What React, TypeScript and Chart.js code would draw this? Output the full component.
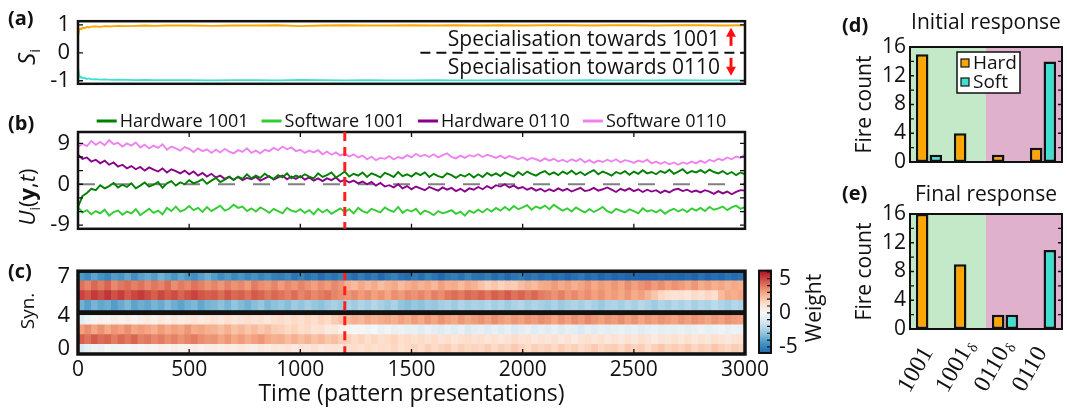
import { useEffect, useRef } from 'react';
import { Chart, registerables } from 'chart.js';

Chart.register(...registerables);

const SANS = '"Open Sans", "Noto Sans", sans-serif';
const SERIF = '"Liberation Serif", "DejaVu Serif", serif';

const HARD_COLOR = '#ffa500';
const SOFT_COLOR = '#40e0d0';

// ---------- shared time axis ----------
const timeTicks = [0, 500, 1000, 1500, 2000, 2500, 3000];
const timeMax = 3000;
const switchTime = 1200;

// ---------- (a) specialisation index ----------
const specTimes = [
  0, 5, 10, 15, 20, 30, 40, 50, 60, 80,
  100, 120, 150, 180, 220, 260, 300, 350, 400, 500,
  600, 700, 800, 900, 1000, 1100, 1200, 1300, 1400, 1500,
  1600, 1700, 1800, 1900, 2000, 2100, 2200, 2300, 2400, 2500,
  2600, 2700, 2800, 2900, 3000,
];
const specHard = [
  0.58, 0.8, 0.87, 0.85, 0.9, 0.89, 0.93, 0.91, 0.94, 0.95,
  0.93, 0.96, 0.95, 0.97, 0.96, 0.97, 0.98, 0.97, 0.98, 0.98,
  0.97, 0.98, 0.98, 0.99, 0.96, 0.98, 0.99, 0.98, 0.98, 0.99,
  0.98, 0.99, 0.98, 0.99, 0.98, 0.99, 0.99, 0.98, 0.99, 0.99,
  0.98, 0.99, 0.99, 0.98, 0.99,
];
const specSoft = [
  -0.52, -0.78, -0.88, -0.86, -0.91, -0.9, -0.94, -0.92, -0.95, -0.94,
  -0.96, -0.95, -0.97, -0.96, -0.97, -0.98, -0.97, -0.98, -0.98, -0.98,
  -0.99, -0.98, -0.98, -0.99, -0.97, -0.98, -0.99, -0.98, -0.99, -0.99,
  -0.98, -0.99, -0.99, -0.98, -0.99, -0.99, -0.99, -0.98, -0.99, -0.99,
  -0.99, -0.98, -0.99, -0.99, -0.99,
];
const specTicks = [-1, 0, 1];
const specDividerFrom = 1540;

// ---------- (b) potentials U_i(y,t), sampled every 20 presentations ----------
const uStep = 20;
const hardware1001 = [
  -5.0, -2.6, -1.9, -1.0, -1.3, -0.2, -0.9, -0.4, 0.3, -0.7,
  -0.1, -0.6, 0.2, -0.9, -0.3, 0.4, -0.5, -0.1, 0.5, -0.8,
  0.2, 0.7, -0.3, 0.4, 0.0, 0.9, 0.2, 0.6, 1.1, 0.1,
  0.8, 1.4, 0.5, 1.0, 1.6, 0.9, 1.7, 1.2, 2.2, 1.3,
  1.9, 1.4, 2.3, 1.6, 1.2, 2.0, 1.5, 2.4, 1.3, 1.9,
  1.5, 2.2, 1.7, 1.3, 2.4, 1.6, 2.0, 2.6, 1.5, 2.1,
  2.8, 1.7, 2.3, 1.9, 2.6, 1.6, 2.4, 2.0, 1.5, 2.5,
  2.1, 1.6, 2.7, 1.8, 2.2, 1.7, 2.5, 2.0, 2.6, 1.6,
  2.3, 1.8, 1.5, 2.4, 2.0, 1.4, 2.1, 1.7, 2.3, 1.5,
  2.2, 1.6, 2.5, 1.9, 2.4, 1.8, 2.6, 2.1, 1.7, 2.7,
  2.0, 2.8, 2.3, 1.9, 2.5, 2.9, 2.1, 2.6, 2.0, 2.8,
  2.3, 3.0, 2.2, 2.7, 2.0, 2.6, 3.1, 2.2, 2.8, 2.4,
  1.9, 2.7, 2.3, 2.9, 2.1, 2.8, 2.3, 3.1, 2.4, 2.7,
  2.2, 2.9, 2.5, 3.2, 2.3, 2.8, 3.3, 2.4, 2.9, 2.6,
  3.1, 2.5, 3.2, 2.7, 2.4, 2.9, 2.2, 2.7, 2.0, 2.6,
  2.2,
];
const software1001 = [
  -5.0, -6.2, -5.7, -6.6, -5.9, -6.4, -5.6, -6.9, -6.1, -5.8,
  -6.7, -6.0, -6.4, -5.5, -6.8, -6.1, -5.4, -6.3, -5.8, -6.6,
  -5.2, -5.9, -4.9, -6.0, -5.6, -4.8, -5.7, -5.2, -6.1, -5.0,
  -5.9, -5.3, -4.7, -5.8, -5.4, -4.5, -5.2, -4.9, -5.9, -5.3,
  -6.0, -5.1, -5.6, -6.3, -5.4, -5.9, -6.4, -5.2, -5.8, -6.1,
  -5.5, -6.3, -5.7, -6.6, -5.4, -6.2, -5.6, -6.5, -5.9, -5.3,
  -6.1, -5.5, -6.4, -5.2, -5.9, -6.3, -5.4, -5.8, -6.2, -5.1,
  -5.7, -6.1, -5.0, -6.3, -5.6, -6.0, -5.4, -6.6, -5.8, -6.2,
  -6.8, -5.9, -6.4, -6.1, -5.7, -6.5, -6.0, -6.9, -5.8, -6.3,
  -5.6, -6.2, -5.4, -6.0, -5.2, -5.8, -5.0, -5.7, -4.8, -5.5,
  -5.1, -4.6, -5.6, -4.9, -5.3, -4.7, -5.5, -4.5, -5.2, -5.8,
  -5.3, -6.0, -5.1, -5.7, -6.2, -5.5, -6.1, -5.6, -5.0, -5.9,
  -6.3, -5.4, -5.8, -6.2, -5.5, -5.9, -6.4, -5.3, -6.0, -5.7,
  -6.2, -5.6, -6.5, -5.8, -5.4, -6.0, -5.5, -6.1, -5.3, -5.8,
  -5.2, -5.9, -5.0, -5.6, -5.3, -4.9, -5.7, -5.1, -4.7, -5.4,
  -5.0,
];
const hardware0110 = [
  6.5, 5.6, 5.9, 5.0, 5.4, 4.6, 5.2, 4.3, 4.8, 3.9,
  4.3, 3.5, 4.0, 3.3, 3.8, 3.0, 3.7, 3.2, 2.8, 3.5,
  2.6, 3.3, 2.9, 2.4, 3.0, 2.2, 2.8, 1.9, 2.5, 1.7,
  2.3, 1.5, 1.9, 1.2, 1.7, 1.0, 1.6, 0.9, 1.4, 1.1,
  1.6, 0.8, 1.3, 1.8, 1.0, 1.5, 1.9, 1.1, 1.7, 1.2,
  1.8, 1.0, 1.5, 0.8, 1.3, 0.7, 1.3, 0.9, 1.5, 0.6,
  1.0, 0.4, 0.8, 0.2, 0.6, 0.0, 0.5, -0.3, 0.3, -0.5,
  -0.2, -0.7, 0.0, -0.9, -0.4, -1.1, -0.5, -0.9, -1.3, -0.6,
  -1.0, -1.4, -0.7, -1.2, -0.8, -1.5, -1.0, -1.6, -0.9, -1.2,
  -0.6, -1.1, -0.4, -0.9, -0.2, -0.5, 0.0, -0.7, -0.3, -0.9,
  -0.6, -1.2, -0.8, -1.4, -1.0, -1.6, -1.1, -1.5, -0.9, -1.4,
  -1.0, -1.6, -1.2, -0.8, -1.5, -1.3, -0.8, -1.4, -1.1, -0.7,
  -1.2, -1.7, -1.0, -1.4, -0.9, -1.5, -1.1, -1.7, -1.2, -1.6,
  -1.3, -1.9, -1.4, -1.8, -1.2, -1.0, -1.5, -1.2, -1.7, -1.4,
  -1.8, -1.3, -1.6, -2.1, -1.5, -2.0, -1.6, -2.2, -1.7, -1.3,
  -1.4,
];
const software0110 = [
  8.2, 8.9, 8.4, 9.5, 8.7, 9.3, 8.6, 9.7, 8.8, 9.1,
  8.3, 9.0, 8.5, 9.2, 8.1, 8.7, 7.9, 8.5, 8.0, 8.8,
  7.6, 8.3, 7.9, 7.4, 8.2, 7.8, 7.1, 7.9, 7.3, 7.7,
  6.9, 7.6, 7.0, 7.8, 7.2, 6.8, 7.5, 7.1, 7.9, 6.9,
  7.4, 6.8, 7.6, 7.3, 8.0, 7.5, 8.3, 7.7, 8.1, 7.3,
  7.6, 6.9, 7.4, 7.0, 7.5, 6.6, 7.2, 6.5, 7.0, 6.3,
  6.8, 6.1, 6.6, 5.9, 6.3, 5.5, 6.1, 5.3, 5.8, 5.6,
  6.2, 5.5, 6.0, 5.7, 6.4, 5.9, 6.7, 6.1, 6.5, 6.0,
  6.6, 5.9, 6.4, 6.8, 6.0, 5.7, 6.3, 5.8, 6.4, 6.1,
  6.6, 6.0, 6.5, 6.2, 5.8, 6.3, 5.7, 6.2, 5.9, 5.5,
  5.9, 5.3, 5.8, 5.5, 5.1, 5.7, 5.2, 5.6, 5.0, 5.4,
  4.9, 5.5, 5.1, 5.6, 4.8, 5.3, 4.7, 5.2, 4.9, 5.4,
  5.0, 5.5, 4.8, 5.3, 5.1, 4.7, 5.2, 4.9, 5.4, 4.6,
  5.0, 4.5, 4.9, 4.4, 4.8, 4.3, 4.8, 4.5, 5.0, 4.6,
  5.2, 4.7, 5.4, 5.0, 5.6, 5.3, 5.9, 5.5, 6.1, 5.8,
  6.6,
];
const uTicks = [-9, 0, 9];
const uMinorTicks = [-9, -6, -3, 0, 3, 6, 9];

// ---------- (c) synaptic weights, one value per 30 presentations ----------
const weightBin = 30;
const weightSyn0 = [
  -1.2, -0.7, -0.3, -0.5, 0.0, -0.2, 0.1, -0.1, 0.2, 0.0,
  0.3, 0.1, 0.4, 0.2, 0.5, 0.2, 0.4, 0.6, 0.3, 0.5,
  0.6, 0.4, 0.7, 0.5, 0.8, 0.6, 0.5, 0.8, 0.6, 0.9,
  0.8, 1.0, 0.7, 1.1, 0.9, 1.2, 0.8, 1.0, 1.1, 0.9,
  1.2, 1.4, 1.1, 1.5, 1.2, 1.4, 1.3, 1.6, 1.2, 1.5,
  1.7, 1.4, 1.8, 1.5, 1.7, 1.9, 1.5, 1.8, 1.6, 1.7,
  1.6, 1.9, 1.5, 1.8, 1.6, 2.0, 1.7, 1.5, 1.8, 1.6,
  1.8, 1.5, 1.9, 1.6, 1.8, 1.4, 1.7, 2.0, 1.6, 1.8,
  1.9, 1.6, 2.0, 1.7, 1.9, 1.5, 1.8, 2.1, 1.7, 1.9,
  1.7, 2.0, 1.6, 1.9, 1.7, 2.1, 1.8, 1.6, 1.9, 1.7,
];
const weightSyn1 = [
  4.5, 4.1, 4.6, 4.2, 4.4, 3.9, 4.3, 4.0, 4.4, 3.8,
  4.0, 3.6, 3.9, 3.5, 3.8, 3.4, 3.7, 3.9, 3.5, 3.3,
  3.4, 3.0, 3.3, 2.9, 3.2, 2.8, 3.1, 3.3, 2.9, 2.7,
  2.8, 2.4, 2.7, 2.3, 2.6, 2.2, 2.5, 2.1, 2.3, 1.9,
  1.8, 1.5, 1.7, 1.3, 1.6, 1.2, 1.5, 1.7, 1.3, 1.5,
  1.2, 1.5, 1.1, 1.4, 1.0, 1.3, 0.9, 1.2, 1.4, 1.1,
  1.3, 0.9, 1.2, 0.8, 1.1, 1.4, 1.0, 1.2, 0.8, 1.1,
  0.9, 1.2, 0.8, 1.1, 0.7, 1.0, 1.3, 0.9, 1.2, 0.8,
  1.1, 0.8, 1.2, 0.9, 1.3, 1.0, 0.7, 1.1, 0.9, 1.2,
  0.9, 1.2, 0.8, 1.1, 0.9, 1.3, 1.0, 0.8, 1.1, 1.2,
];
const weightSyn2 = [
  3.1, 3.5, 3.0, 3.4, 2.9, 3.3, 3.1, 3.5, 3.0, 3.2,
  3.0, 2.7, 3.2, 2.8, 3.1, 2.9, 3.3, 2.8, 3.0, 2.7,
  2.6, 2.3, 2.7, 2.2, 2.5, 2.1, 2.4, 2.0, 2.3, 1.9,
  1.8, 1.5, 1.7, 1.3, 1.5, 1.0, 1.2, 0.7, 0.9, 0.4,
  0.2, -0.1, 0.1, -0.3, -0.1, -0.5, -0.2, -0.6, -0.4, -0.7,
  -0.6, -0.9, -0.5, -0.8, -1.0, -0.7, -0.9, -0.6, -1.1, -0.8,
  -0.7, -1.0, -0.6, -0.9, -0.7, -1.1, -0.8, -0.5, -0.9, -0.7,
  -0.9, -0.6, -1.0, -0.7, -0.8, -1.1, -0.7, -0.9, -0.6, -0.8,
  -0.7, -0.5, -0.8, -0.6, -0.9, -0.7, -0.5, -0.8, -0.6, -0.7,
  -0.5, -0.8, -0.6, -0.4, -0.7, -0.5, -0.3, -0.6, -0.4, -0.5,
];
const weightSyn3 = [
  -0.9, -0.4, 0.1, 0.4, 0.2, 0.5, 0.3, 0.6, 0.2, 0.5,
  0.7, 0.4, 0.8, 0.5, 0.9, 0.6, 0.8, 1.0, 0.7, 0.9,
  1.1, 0.8, 1.2, 0.9, 1.1, 1.3, 1.0, 1.2, 0.9, 1.3,
  1.4, 1.1, 1.5, 1.2, 1.6, 1.3, 1.7, 1.5, 1.9, 2.2,
  2.4, 2.7, 2.5, 2.9, 2.6, 2.8, 3.0, 2.7, 3.1, 2.8,
  3.2, 2.9, 3.3, 3.0, 3.4, 3.1, 2.9, 3.3, 3.0, 3.2,
  3.4, 3.1, 3.5, 3.2, 3.0, 3.3, 3.1, 3.4, 3.2, 3.5,
  3.3, 3.0, 3.4, 3.1, 3.5, 3.2, 3.6, 3.3, 3.1, 3.4,
  3.2, 3.5, 3.1, 3.4, 3.0, 3.3, 3.1, 3.4, 3.2, 3.0,
  3.3, 3.1, 3.4, 3.2, 3.0, 3.3, 3.1, 3.4, 3.2, 3.1,
];
const weightSyn4 = [
  -3.6, -4.1, -3.5, -3.9, -3.7, -4.2, -3.8, -3.4, -4.0, -3.7,
  -3.9, -3.5, -3.8, -3.3, -3.7, -4.0, -3.6, -3.4, -3.9, -3.5,
  -3.4, -3.1, -3.5, -3.0, -3.3, -3.6, -3.2, -2.9, -3.4, -3.1,
  -2.9, -3.2, -2.7, -3.0, -2.6, -2.9, -3.1, -2.7, -2.5, -2.8,
  -2.4, -2.7, -2.3, -2.6, -2.2, -2.5, -2.8, -2.4, -3.0, -3.2,
  -2.9, -3.1, -2.7, -2.9, -2.6, -2.4, -2.7, -2.3, -2.6, -2.4,
  -2.5, -2.2, -2.6, -2.3, -2.7, -2.4, -2.2, -2.6, -2.3, -2.5,
  -2.7, -2.4, -2.8, -2.5, -2.3, -2.6, -2.2, -2.5, -2.8, -2.4,
  -2.3, -2.6, -2.2, -2.5, -2.1, -2.4, -2.7, -2.3, -2.5, -2.2,
  -2.4, -2.1, -2.5, -2.2, -2.4, -2.0, -2.3, -2.6, -2.2, -2.4,
];
const weightSyn5 = [
  5.1, 4.7, 5.3, 4.9, 5.4, 4.8, 5.2, 4.6, 5.0, 5.3,
  4.9, 4.5, 5.0, 4.6, 4.9, 4.4, 4.8, 5.1, 4.7, 4.5,
  4.6, 4.2, 4.7, 4.3, 4.5, 4.1, 4.6, 4.4, 4.0, 4.3,
  4.1, 3.8, 4.2, 3.7, 4.0, 3.6, 3.9, 4.1, 3.7, 3.5,
  3.3, 3.6, 3.2, 3.5, 3.1, 3.4, 3.0, 3.5, 3.2, 3.6,
  3.4, 3.7, 3.3, 3.8, 3.5, 4.0, 4.2, 3.9, 4.3, 4.1,
  4.4, 4.0, 4.5, 4.2, 4.6, 4.1, 4.4, 4.0, 4.3, 3.9,
  3.7, 3.4, 3.8, 3.3, 3.6, 3.2, 3.5, 3.1, 3.4, 3.0,
  3.2, 2.9, 3.3, 2.8, 3.1, 2.6, 2.1, 1.6, 1.3, 1.0,
  1.2, 0.9, 1.4, 1.1, 1.6, 1.3, 2.4, 2.9, 2.7, 3.0,
];
const weightSyn6 = [
  4.1, 3.7, 4.3, 3.9, 4.4, 3.6, 4.0, 4.2, 3.8, 4.1,
  3.6, 4.0, 3.7, 4.2, 3.5, 3.9, 3.6, 4.1, 3.8, 3.4,
  3.7, 3.3, 3.8, 3.4, 3.6, 3.2, 3.9, 3.5, 3.3, 3.7,
  3.2, 3.6, 3.3, 3.7, 3.4, 3.1, 3.5, 3.2, 3.6, 3.3,
  2.7, 2.4, 2.9, 2.5, 2.8, 2.3, 2.6, 2.9, 2.4, 2.7,
  3.0, 2.6, 2.9, 2.5, 3.1, 2.7, 2.8, 2.4, 2.9, 2.6,
  2.2, 1.8, 2.1, 1.7, 2.0, 1.9, 2.3, 2.6, 2.4, 2.8,
  2.9, 3.2, 2.8, 3.1, 2.7, 3.0, 3.3, 2.9, 3.2, 3.0,
  3.3, 3.0, 3.5, 3.1, 3.4, 3.6, 3.2, 3.5, 3.1, 3.4,
  3.2, 2.9, 3.3, 2.8, 3.1, 2.7, 3.0, 2.6, 2.9, 2.7,
];
const weightSyn7 = [
  -4.3, -4.7, -4.0, -4.5, -4.9, -4.2, -4.4, -3.9, -4.6, -4.1,
  -3.8, -4.2, -3.6, -4.0, -4.4, -3.9, -4.3, -4.6, -4.1, -3.7,
  -4.2, -4.7, -4.3, -4.8, -4.4, -4.9, -4.5, -5.0, -4.6, -5.1,
  -5.2, -4.8, -5.5, -5.0, -5.6, -5.2, -5.8, -5.3, -5.5, -5.1,
  -5.4, -5.8, -5.2, -5.7, -5.3, -5.9, -5.4, -5.1, -5.6, -5.8,
  -5.3, -5.7, -5.1, -5.5, -5.9, -5.4, -5.2, -5.6, -5.0, -5.5,
  -5.6, -5.2, -5.8, -5.4, -5.9, -5.5, -5.3, -5.7, -5.4, -5.8,
  -5.5, -5.9, -5.6, -6.1, -5.7, -5.4, -5.9, -5.6, -6.0, -5.7,
  -6.1, -5.8, -6.3, -5.9, -6.2, -6.0, -6.4, -5.8, -6.1, -5.9,
  -6.2, -5.8, -6.0, -5.6, -6.1, -5.7, -5.9, -5.5, -5.8, -5.6,
];
const synTickValues = [0.5, 3.95, 7.9];
const synTickLabels = ['0', '4', '7'];
const weightTicks = [-5, 0, 5];
const weightMinorTicks = [-5, -4, -3, -2, -1, 0, 1, 2, 3, 4, 5, 6];
const weightRange = [-6, 6];
const rdBu = ['#2166ac', '#4393c3', '#92c5de', '#d1e5f0', '#f7f7f7', '#fddbc7', '#f4a582', '#d6604d', '#b2182b'];

// ---------- (d), (e) fire counts ----------
const patternNames = ['1001', '1001', '0110', '0110'];
const patternSubs = ['', 'δ', 'δ', ''];
const initialHard = [15, 4, 1, 2];
const initialSoft = [1, 0, 0, 14];
const finalHard = [16, 9, 2, 0];
const finalSoft = [0, 0, 2, 11];
const countTicks = [0, 4, 8, 12, 16];
const countMinorTicks = [2, 4, 6, 8, 10, 12, 14];

// ---------- helpers ----------
function hexRgb(h: string) {
  return [parseInt(h.slice(1, 3), 16), parseInt(h.slice(3, 5), 16), parseInt(h.slice(5, 7), 16)];
}
function weightColor(w: number) {
  const t = Math.min(1, Math.max(0, (w - weightRange[0]) / (weightRange[1] - weightRange[0])));
  const f = t * (rdBu.length - 1);
  const i = Math.min(rdBu.length - 2, Math.floor(f));
  const k = f - i;
  const a = hexRgb(rdBu[i]);
  const b = hexRgb(rdBu[i + 1]);
  const c = a.map((v, j) => Math.round(v + (b[j] - v) * k));
  return `rgb(${c[0]},${c[1]},${c[2]})`;
}

type Seg = { text: string; font: string; dy?: number };
function drawRotatedRich(ctx: CanvasRenderingContext2D, cx: number, cy: number, segs: Seg[]) {
  ctx.save();
  ctx.translate(cx, cy);
  ctx.rotate(-Math.PI / 2);
  ctx.fillStyle = '#111';
  ctx.textBaseline = 'alphabetic';
  ctx.textAlign = 'left';
  let total = 0;
  for (const s of segs) {
    ctx.font = s.font;
    total += ctx.measureText(s.text).width;
  }
  let x = -total / 2;
  for (const s of segs) {
    ctx.font = s.font;
    ctx.fillText(s.text, x, 8 + (s.dy || 0));
    x += ctx.measureText(s.text).width;
  }
  ctx.restore();
}

function baseOptions(padding: any) {
  return {
    responsive: false,
    maintainAspectRatio: false,
    animation: false,
    devicePixelRatio: 1,
    events: [],
    layout: { padding },
    plugins: { legend: { display: false }, tooltip: { enabled: false }, title: { display: false } },
  };
}

function valueAxis(min: number, max: number, ticks: number[], width: number, size: number, extra: any = {}) {
  return {
    type: 'linear',
    min,
    max,
    afterFit: (s: any) => {
      s.width = width;
    },
    afterBuildTicks: (s: any) => {
      s.ticks = ticks.map((v) => ({ value: v }));
    },
    ticks: {
      font: { family: SANS, size },
      color: '#111',
      padding: 8,
      autoSkip: false,
      maxRotation: 0,
      callback: (v: number) => String(v),
    },
    grid: { display: false, drawTicks: false },
    border: { display: false },
    ...extra,
  };
}

function framePlugin(id: string, o: { width: number; xTicks?: number[]; yTicks?: number[]; len?: number }) {
  return {
    id,
    afterDatasetsDraw(chart: any) {
      const { ctx, chartArea: a, scales } = chart;
      const L = o.len ?? 5;
      ctx.save();
      ctx.strokeStyle = '#111';
      ctx.lineWidth = 1.3;
      ctx.beginPath();
      (o.xTicks || []).forEach((v) => {
        const x = scales.x.getPixelForValue(v);
        ctx.moveTo(x, a.top);
        ctx.lineTo(x, a.top + L);
        ctx.moveTo(x, a.bottom);
        ctx.lineTo(x, a.bottom - L);
      });
      (o.yTicks || []).forEach((v) => {
        const y = scales.y.getPixelForValue(v);
        ctx.moveTo(a.left, y);
        ctx.lineTo(a.left + L, y);
        ctx.moveTo(a.right, y);
        ctx.lineTo(a.right - L, y);
      });
      ctx.stroke();
      ctx.lineWidth = o.width;
      ctx.strokeRect(a.left, a.top, a.right - a.left, a.bottom - a.top);
      ctx.restore();
    },
  };
}

function switchLinePlugin(id: string) {
  return {
    id,
    afterDatasetsDraw(chart: any) {
      const { ctx, chartArea: a, scales } = chart;
      const x = scales.x.getPixelForValue(switchTime);
      ctx.save();
      ctx.strokeStyle = '#ff1f1f';
      ctx.lineWidth = 3;
      ctx.setLineDash([9, 6]);
      ctx.beginPath();
      ctx.moveTo(x, a.top);
      ctx.lineTo(x, a.bottom);
      ctx.stroke();
      ctx.restore();
    },
  };
}

function rotatedLabelPlugin(id: string, cx: number, cy: number, segs: Seg[]) {
  return {
    id,
    afterDraw(chart: any) {
      drawRotatedRich(chart.ctx, cx, cy, segs);
    },
  };
}

function drawArrow(ctx: CanvasRenderingContext2D, x: number, y0: number, y1: number, color: string) {
  const dir = y1 < y0 ? -1 : 1;
  const head = 9;
  ctx.save();
  ctx.strokeStyle = color;
  ctx.fillStyle = color;
  ctx.lineWidth = 3;
  ctx.beginPath();
  ctx.moveTo(x, y0);
  ctx.lineTo(x, y1 - dir * head * 0.8);
  ctx.stroke();
  ctx.beginPath();
  ctx.moveTo(x, y1);
  ctx.lineTo(x - 5, y1 - dir * head);
  ctx.lineTo(x + 5, y1 - dir * head);
  ctx.closePath();
  ctx.fill();
  ctx.restore();
}

// ---------- chart builders ----------
function buildSpec() {
  const note = {
    id: 'specNote',
    afterDatasetsDraw(chart: any) {
      const { ctx, chartArea: a, scales } = chart;
      const y0 = scales.y.getPixelForValue(0);
      ctx.save();
      ctx.strokeStyle = '#111';
      ctx.lineWidth = 2;
      ctx.setLineDash([10, 6]);
      ctx.beginPath();
      ctx.moveTo(scales.x.getPixelForValue(specDividerFrom), y0);
      ctx.lineTo(a.right, y0);
      ctx.stroke();
      ctx.setLineDash([]);
      ctx.font = `21px ${SANS}`;
      ctx.fillStyle = '#111';
      ctx.textAlign = 'right';
      ctx.textBaseline = 'alphabetic';
      ctx.fillText('Specialisation towards 1001', a.right - 25, y0 - 7);
      ctx.fillText('Specialisation towards 0110', a.right - 25, y0 + 21);
      drawArrow(ctx, a.right - 14, y0 - 7, y0 - 25, '#ff1010');
      drawArrow(ctx, a.right - 14, y0 + 5, y0 + 23, '#ff1010');
      ctx.restore();
    },
  };
  return {
    type: 'line',
    data: {
      datasets: [
        { label: 'Hard', data: specTimes.map((t, i) => ({ x: t, y: specHard[i] })), borderColor: HARD_COLOR, borderWidth: 1.8, pointRadius: 0 },
        { label: 'Soft', data: specTimes.map((t, i) => ({ x: t, y: specSoft[i] })), borderColor: SOFT_COLOR, borderWidth: 1.8, pointRadius: 0 },
      ],
    },
    options: {
      ...baseOptions({ left: 0, top: 14, right: 78, bottom: 8 }),
      scales: {
        x: { type: 'linear', min: 0, max: timeMax, display: false },
        y: valueAxis(-1.11, 1.135, specTicks, 78, 22),
      },
    },
    plugins: [
      framePlugin('specFrame', { width: 2.5, yTicks: specTicks }),
      note,
      rotatedLabelPlugin('specLabel', 27, 57, [
        { text: 'S', font: `italic 24px ${SANS}` },
        { text: 'i', font: `15px ${SANS}`, dy: 5 },
      ]),
    ],
  };
}

function buildPotentials() {
  const uTimes = hardware1001.map((_, i) => i * uStep);
  const series = [
    { label: 'Hardware 1001', values: hardware1001, color: '#008000' },
    { label: 'Software 1001', values: software1001, color: '#32cd32' },
    { label: 'Hardware 0110', values: hardware0110, color: '#8b008b' },
    { label: 'Software 0110', values: software0110, color: '#ee82ee' },
  ];
  const zeroLine = {
    id: 'zeroLine',
    beforeDatasetsDraw(chart: any) {
      const { ctx, chartArea: a, scales } = chart;
      const y = scales.y.getPixelForValue(0);
      ctx.save();
      ctx.strokeStyle = '#808080';
      ctx.lineWidth = 2;
      ctx.setLineDash([17, 18]);
      ctx.beginPath();
      ctx.moveTo(a.left, y);
      ctx.lineTo(a.right, y);
      ctx.stroke();
      ctx.restore();
    },
  };
  const legend = {
    id: 'lineLegend',
    afterDraw(chart: any) {
      const { ctx, chartArea: a } = chart;
      ctx.save();
      ctx.font = `18px ${SANS}`;
      const sw = 20;
      const gap = 3;
      const itemGap = 13;
      const items = chart.data.datasets.map((d: any) => ({
        label: d.label,
        color: d.borderColor,
        w: sw + gap + ctx.measureText(d.label).width,
      }));
      const total = items.reduce((s: number, it: any) => s + it.w, 0) + itemGap * (items.length - 1);
      let x = (a.left + a.right) / 2 - total / 2;
      const y = a.top - 11;
      for (const it of items) {
        ctx.strokeStyle = it.color;
        ctx.lineWidth = 3;
        ctx.beginPath();
        ctx.moveTo(x, y);
        ctx.lineTo(x + sw, y);
        ctx.stroke();
        ctx.fillStyle = '#111';
        ctx.textBaseline = 'middle';
        ctx.textAlign = 'left';
        ctx.fillText(it.label, x + sw + gap, y + 1);
        x += it.w + itemGap;
      }
      ctx.restore();
    },
  };
  return {
    type: 'line',
    data: {
      datasets: series.map((s) => ({
        label: s.label,
        data: uTimes.map((t, i) => ({ x: t, y: s.values[i] })),
        borderColor: s.color,
        borderWidth: 1.9,
        pointRadius: 0,
      })),
    },
    options: {
      ...baseOptions({ left: 0, top: 32, right: 78, bottom: 8 }),
      scales: {
        x: { type: 'linear', min: 0, max: timeMax, display: false },
        y: valueAxis(-9.8, 11.5, uTicks, 78, 22),
      },
    },
    plugins: [
      zeroLine,
      framePlugin('uFrame', { width: 2.5, xTicks: timeTicks, yTicks: uMinorTicks }),
      switchLinePlugin('uSwitch'),
      legend,
      rotatedLabelPlugin('uLabel', 27, 97, [
        { text: 'U', font: `italic 22px ${SANS}` },
        { text: 'i', font: `14px ${SANS}`, dy: 5 },
        { text: '(', font: `22px ${SANS}` },
        { text: 'y', font: `bold 22px ${SANS}` },
        { text: ',', font: `22px ${SANS}` },
        { text: 't', font: `italic 22px ${SANS}` },
        { text: ')', font: `22px ${SANS}` },
      ]),
    ],
  };
}

function buildWeights() {
  const rows = [weightSyn0, weightSyn1, weightSyn2, weightSyn3, weightSyn4, weightSyn5, weightSyn6, weightSyn7];
  const separator = {
    id: 'blockSeparator',
    afterDatasetsDraw(chart: any) {
      const { ctx, chartArea: a, scales } = chart;
      const y1 = scales.y.getPixelForValue(4.5);
      const y0 = scales.y.getPixelForValue(4);
      ctx.save();
      ctx.fillStyle = '#111';
      ctx.fillRect(a.left, y1, a.right - a.left, y0 - y1);
      ctx.restore();
    },
  };
  return {
    type: 'bar',
    data: {
      datasets: rows.map((row, r) => {
        const lo = r < 4 ? r : r + 0.5;
        return {
          label: `Syn ${r}`,
          data: row.map((_, j) => ({ x: j * weightBin + weightBin / 2, y: [lo, lo + 1] })),
          backgroundColor: row.map((w) => weightColor(w)),
          borderWidth: 0,
          barPercentage: 1,
          categoryPercentage: 1,
          grouped: false,
        };
      }),
    },
    options: {
      ...baseOptions({ left: 0, top: 13, right: 78, bottom: 0 }),
      scales: {
        x: {
          type: 'linear',
          min: 0,
          max: timeMax,
          offset: false,
          afterFit: (s: any) => {
            s.height = 56;
          },
          afterBuildTicks: (s: any) => {
            s.ticks = timeTicks.map((v) => ({ value: v }));
          },
          ticks: { font: { family: SANS, size: 21 }, color: '#111', padding: 3, maxRotation: 0, autoSkip: false, callback: (v: number) => String(v) },
          grid: { display: false, drawTicks: false },
          border: { display: false },
          title: { display: true, text: 'Time (pattern presentations)', font: { family: SANS, size: 23 }, color: '#111', padding: { top: 0, bottom: 2 } },
        },
        y: valueAxis(0, 8.5, synTickValues, 78, 22, {
          beginAtZero: false,
          ticks: {
            font: { family: SANS, size: 22 },
            color: '#111',
            padding: 8,
            autoSkip: false,
            maxRotation: 0,
            callback: (_v: number, i: number) => synTickLabels[i],
          },
        }),
      },
    },
    plugins: [
      separator,
      switchLinePlugin('wSwitch'),
      framePlugin('wFrame', { width: 3.5, xTicks: timeTicks }),
      rotatedLabelPlugin('wLabel', 26, 61, [{ text: 'Syn.', font: `19px ${SANS}` }]),
    ],
  };
}

function buildColorbar() {
  const bar = {
    id: 'colorbarFill',
    beforeDatasetsDraw(chart: any) {
      const { ctx, chartArea: a, scales } = chart;
      ctx.save();
      for (let py = Math.floor(a.top); py < a.bottom; py++) {
        ctx.fillStyle = weightColor(scales.y.getValueForPixel(py + 0.5));
        ctx.fillRect(a.left, py, a.right - a.left, 1);
      }
      ctx.strokeStyle = '#111';
      ctx.lineWidth = 1.2;
      ctx.beginPath();
      weightMinorTicks.forEach((v) => {
        const y = scales.y.getPixelForValue(v);
        ctx.moveTo(a.right, y);
        ctx.lineTo(a.right - 4, y);
      });
      ctx.stroke();
      ctx.lineWidth = 2;
      ctx.strokeRect(a.left, a.top, a.right - a.left, a.bottom - a.top);
      ctx.restore();
    },
  };
  return {
    type: 'line',
    data: { datasets: [] },
    options: {
      ...baseOptions({ left: 14, top: 13, right: 0, bottom: 57 }),
      scales: {
        x: { type: 'linear', min: 0, max: 1, display: false },
        y: {
          ...valueAxis(-5.9, 6.2, weightTicks, 69, 21),
          position: 'right',
        },
      },
    },
    plugins: [bar, rotatedLabelPlugin('cbLabel', 68, 58, [{ text: 'Weight', font: `21px ${SANS}` }])],
  };
}

function buildCounts(hard: number[], soft: number[], title: string, titleGap: number, withLegend: boolean, withPatternLabels: boolean, padding: any) {
  const backdrop = {
    id: 'halves',
    beforeDatasetsDraw(chart: any) {
      const { ctx, chartArea: a, scales } = chart;
      const mid = (scales.x.getPixelForValue(1) + scales.x.getPixelForValue(2)) / 2;
      ctx.save();
      ctx.fillStyle = '#c3e9c8';
      ctx.fillRect(a.left, a.top, mid - a.left, a.bottom - a.top);
      ctx.fillStyle = '#dfb1cd';
      ctx.fillRect(mid, a.top, a.right - mid, a.bottom - a.top);
      ctx.restore();
    },
  };
  const heading = {
    id: 'heading',
    afterDraw(chart: any) {
      const { ctx, chartArea: a } = chart;
      ctx.save();
      ctx.font = `21px ${SANS}`;
      ctx.fillStyle = '#111';
      ctx.textAlign = 'center';
      ctx.textBaseline = 'middle';
      ctx.fillText(title, (a.left + a.right) / 2, a.top - titleGap);
      ctx.restore();
    },
  };
  const legend = {
    id: 'boxLegend',
    afterDatasetsDraw(chart: any) {
      const { ctx, chartArea: a } = chart;
      const bx = a.left + 47;
      const by = a.top + 5;
      ctx.save();
      ctx.fillStyle = '#fff';
      ctx.fillRect(bx, by, 63, 41);
      ctx.strokeStyle = '#111';
      ctx.lineWidth = 1.5;
      ctx.strokeRect(bx, by, 63, 41);
      ctx.font = `19px ${SANS}`;
      ctx.textBaseline = 'middle';
      ctx.textAlign = 'left';
      chart.data.datasets.forEach((d: any, i: number) => {
        const cy = by + 11 + i * 19;
        ctx.fillStyle = d.backgroundColor;
        ctx.fillRect(bx + 4, cy - 4, 8, 8);
        ctx.lineWidth = 1.2;
        ctx.strokeRect(bx + 4, cy - 4, 8, 8);
        ctx.fillStyle = '#111';
        ctx.fillText(d.label, bx + 16, cy + 1);
      });
      ctx.restore();
    },
  };
  const patternLabels = {
    id: 'patternLabels',
    afterDraw(chart: any) {
      const { ctx, chartArea: a, scales } = chart;
      ctx.save();
      ctx.fillStyle = '#111';
      patternNames.forEach((name, i) => {
        const px = scales.x.getPixelForValue(i);
        ctx.save();
        ctx.translate(px - 1, a.bottom + 20);
        ctx.rotate(-Math.PI / 3);
        ctx.textBaseline = 'middle';
        ctx.textAlign = 'right';
        ctx.font = `24px ${SERIF}`;
        ctx.fillText(name, 0, 0);
        if (patternSubs[i]) {
          ctx.textAlign = 'left';
          ctx.font = `15px ${SERIF}`;
          ctx.fillText(patternSubs[i], 1, 6);
        }
        ctx.restore();
      });
      ctx.restore();
    },
  };
  const plugins: any[] = [backdrop, framePlugin('countFrame', { width: 2, yTicks: countMinorTicks, len: 4 }), heading];
  if (withLegend) plugins.push(legend);
  if (withPatternLabels) plugins.push(patternLabels);
  const barStyle = { borderColor: '#111', borderWidth: 2.5, borderSkipped: false, categoryPercentage: 0.72, barPercentage: 0.92 };
  return {
    type: 'bar',
    data: {
      labels: patternNames.map((n, i) => n + patternSubs[i]),
      datasets: [
        { label: 'Hard', data: hard, backgroundColor: HARD_COLOR, ...barStyle },
        { label: 'Soft', data: soft, backgroundColor: SOFT_COLOR, ...barStyle },
      ],
    },
    options: {
      ...baseOptions(padding),
      scales: {
        x: { display: false },
        y: valueAxis(0, 16, countTicks, 70, 21, {
          title: { display: true, text: 'Fire count', font: { family: SANS, size: 21 }, color: '#111', padding: { top: 12, bottom: 0 } },
          ticks: { font: { family: SANS, size: 21 }, color: '#111', padding: 4, autoSkip: false, callback: (v: number) => String(v) },
        }),
      },
    },
    plugins,
  };
}

const buildInitial = () =>
  buildCounts(initialHard, initialSoft, 'Initial response', 24, true, false, { left: 0, top: 47, right: 5, bottom: 18 });
const buildFinal = () =>
  buildCounts(finalHard, finalSoft, 'Final response', 19, false, true, { left: 0, top: 34, right: 5, bottom: 81 });

function ChartCanvas({ left, top, width, height, build }: { left: number; top: number; width: number; height: number; build: () => any }) {
  const ref = useRef<HTMLCanvasElement>(null);
  useEffect(() => {
    const chart = new Chart(ref.current as HTMLCanvasElement, build());
    return () => chart.destroy();
  }, [build]);
  return <canvas ref={ref} width={width} height={height} style={{ position: 'absolute', left, top, width, height }} />;
}

const panelStyle = (left: number, top: number) => ({
  position: 'absolute' as const,
  left,
  top,
  font: `bold 20px ${SANS}`,
  lineHeight: '20px',
  color: '#111',
});

export default function App() {
  return (
    <div style={{ position: 'absolute', left: 0, top: 0, width: 1067, height: 410, background: '#fff', overflow: 'hidden' }}>
      <ChartCanvas left={0} top={0} width={823} height={105} build={buildSpec} />
      <ChartCanvas left={0} top={100} width={823} height={150} build={buildPotentials} />
      <ChartCanvas left={0} top={250} width={823} height={160} build={buildWeights} />
      <ChartCanvas left={745} top={250} width={95} height={160} build={buildColorbar} />
      <ChartCanvas left={840} top={0} width={227} height={180} build={buildInitial} />
      <ChartCanvas left={840} top={180} width={227} height={230} build={buildFinal} />
      <span style={panelStyle(8, 8)}>(a)</span>
      <span style={panelStyle(8, 113)}>(b)</span>
      <span style={panelStyle(8, 261)}>(c)</span>
      <span style={panelStyle(842, 15)}>(d)</span>
      <span style={panelStyle(842, 183)}>(e)</span>
    </div>
  );
}
